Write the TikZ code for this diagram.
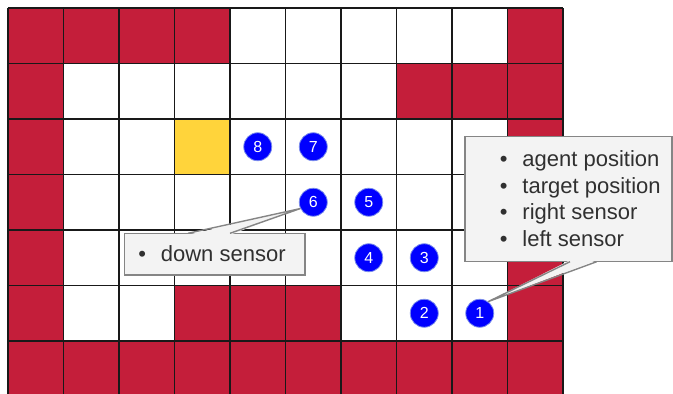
\documentclass[tikz,border=0pt]{standalone}
\usepackage{fontspec}
\setmainfont{Liberation Sans}
\definecolor{wallred}{HTML}{C41E3A}
\definecolor{targetyellow}{HTML}{FFD43B}
\definecolor{notegray}{HTML}{F3F3F3}
\definecolor{notedraw}{HTML}{858585}
\definecolor{notetext}{HTML}{303030}
\definecolor{agentring}{HTML}{7A8CEB}
\tikzset{
    wall/.style={fill=wallred},
    target/.style={fill=targetyellow},
    gridline/.style={line width=1.2pt, draw=black!90},
    agentpos/.style={circle, fill=blue, draw=agentring, line width=0.8pt,
        minimum size=28pt, inner sep=0pt, text=white,
        font=\fontsize{16}{16}\selectfont},
    notebox/.style={rectangle, fill=notegray, draw=notedraw, line width=1.4pt,
        inner sep=0pt, outer sep=0pt, anchor=north west},
    notepointer/.style={draw=notedraw, line width=1.4pt, line join=miter},
    notelabel/.style={anchor=base west, inner sep=0pt, text=notetext,
        font=\fontsize{22}{26}\selectfont},
}
\newcommand{\notebullet}{\makebox[22.5pt][l]{\textbullet}}

\begin{document}
\begin{tikzpicture}[x=55.5pt, y=55.5pt]
    \useasboundingbox (-0.1441,0.0631) rectangle (11.982,7.1441);
    % maze walls and target cell
    \foreach \x/\y in {0/6,1/6,2/6,3/6,9/6, 0/5,7/5,8/5,9/5, 0/4,9/4, 0/3,9/3, 0/2,9/2,
        0/1,3/1,4/1,5/1,9/1, 0/0,1/0,2/0,3/0,4/0,5/0,6/0,7/0,8/0,9/0}
        \fill[wall] (\x,\y) rectangle ++(1,1);
    \fill[target] (3,4) rectangle ++(1,1);
    \draw[gridline, step=1] (0,0) grid (10,7);
    % agent path
    \foreach \n/\x/\y in {1/8.5/1.5, 2/7.5/1.5, 3/7.5/2.5, 4/6.5/2.5,
        5/6.5/3.5, 6/5.5/3.5, 7/5.5/4.5, 8/4.5/4.5}
        \node[agentpos] (a\n) at (\x,\y) {\n};
    % callout at step 1
    \node[notebox, minimum width=207pt, minimum height=125pt] (sensors) at (8.234,4.681) {};
    \fill[notegray] ([xshift=105pt,yshift=1.5pt]sensors.south west) -- (a1.54)
        -- ([xshift=131.7pt,yshift=1.5pt]sensors.south west) -- cycle;
    \draw[notepointer] ([xshift=105pt]sensors.south west) -- (a1.54)
        -- ([xshift=131.7pt]sensors.south west);
    \foreach \t [count=\i] in {agent position, target position, right sensor, left sensor}
        \node[notelabel] (sensors-\i) at ([xshift=34.8pt,yshift={-30pt-(\i-1)*26.5pt}]sensors.north west) {\notebullet\t};
    % callout at step 6
    \node[notebox, minimum width=180.7pt, minimum height=41.7pt] (down) at (2.0955,2.9405) {};
    \fill[notegray] ([xshift=63.7pt,yshift=-1.5pt]down.north west) -- (a6.206)
        -- ([xshift=105.7pt,yshift=-1.5pt]down.north west) -- cycle;
    \draw[notepointer] ([xshift=63.7pt]down.north west) -- (a6.206)
        -- ([xshift=105.7pt]down.north west);
    \node[notelabel] (down-1) at ([xshift=13.9pt,yshift=-28.4pt]down.north west) {\notebullet down sensor};
\end{tikzpicture}
\end{document}
